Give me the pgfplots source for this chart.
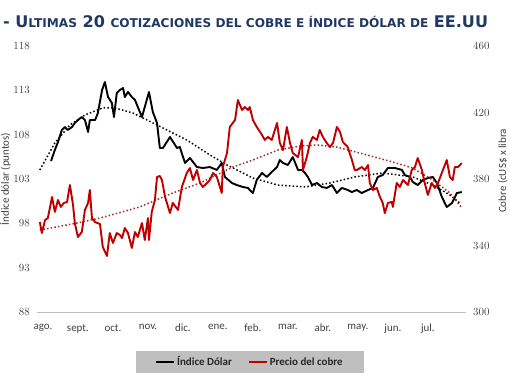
\documentclass[border=0pt]{standalone}
\usepackage{fontspec}
\setmainfont{Carlito}
\newfontfamily\titlefont{DejaVu Sans}
\usepackage{pgfplots}
\pgfplotsset{compat=1.18}
\definecolor{cred}{HTML}{C00000}
\definecolor{ctrend}{HTML}{A52A2A}
\definecolor{ttl}{HTML}{1F3864}
\definecolor{tick}{HTML}{404040}
\definecolor{legbg}{HTML}{BFBFBF}
\newcommand\smc[1]{{\fontsize{12.15}{12}\selectfont #1}}
\begin{document}
\begin{tikzpicture}
\useasboundingbox (0,0) rectangle (510bp,382bp);
\node[anchor=base west, inner sep=0pt, text=ttl, font=\titlefont\bfseries\fontsize{16.1}{18}\selectfont] at (3bp,354bp)
  {- U\smc{LTIMAS} 20 \smc{COTIZACIONES DEL COBRE E ÍNDICE DÓLAR DE} EE.UU};
\begin{axis}[
  at={(37bp,70bp)}, anchor=south west, scale only axis,
  width=429bp, height=266bp,
  xmin=-0.17, xmax=12.09, ymin=88, ymax=118,
  axis x line*=bottom, axis y line*=left,
  x axis line style={draw=black!25, line width=0.8bp},
  y axis line style={draw=none},
  major tick length=0pt,
  ytick={88,93,...,118},
  xtick={0,...,11},
  xticklabels={ago.,sept.,oct.,nov.,dic.,ene.,feb.,mar.,abr.,may.,jun.,jul.},
  tick label style={font=\fontsize{11}{13}\selectfont, text=tick},
  xticklabel style={anchor=north, inner sep=0pt, yshift=-12bp},
  yticklabel style={anchor=east, inner sep=0pt, xshift=-7bp},
  ylabel={Índice dólar (puntos)},
  ylabel style={at={(axis description cs:-0.074,0.5)}, anchor=center, rotate=0, font=\fontsize{11}{13}\selectfont, text=tick},
  legend style={at={(axis description cs:0.4965,-0.188)}, anchor=center, fill=legbg, draw=none,
    font=\bfseries\fontsize{11}{13}\selectfont, text=black!85, inner xsep=19bp, inner ysep=4bp,
    /tikz/every even column/.append style={column sep=14bp}},
  legend columns=2,
  legend image code/.code={\draw[#1] (0bp,0bp) -- (18bp,0bp);},
  clip=false,
]
\addplot[black, line width=1.5bp, dash pattern=on 1.5bp off 2.2bp, forget plot] coordinates {
(-0.09,104.02)(0.34,107.06)(0.77,109.09)(1.20,110.22)(1.71,111.01)(2.06,111.01)(2.57,110.44)(3.26,109.09)(4.11,107.40)(4.77,105.71)(5.26,104.58)(6.00,103.11)(6.71,102.32)(7.49,102.10)(8.20,102.55)(8.91,103.23)(9.71,103.68)(10.57,103.23)(11.14,102.32)(11.63,101.20)(11.91,100.29)
};
\addplot[black, line width=1.9bp, line join=round] coordinates {
(0.23,105.03)(0.34,106.27)(0.43,107.17)(0.54,108.53)(0.63,108.86)(0.71,108.53)(0.83,108.86)(0.91,109.32)(1.00,109.65)(1.11,109.99)(1.20,109.65)(1.29,108.30)(1.34,109.65)(1.49,109.65)(1.57,110.44)(1.69,113.04)(1.77,113.94)(1.86,112.25)(1.97,111.57)(2.03,109.99)(2.11,112.70)(2.20,113.04)(2.29,113.26)(2.34,112.25)(2.43,112.81)(2.54,112.25)(2.63,111.91)(2.71,111.12)(2.83,109.99)(2.91,111.12)(3.03,112.81)(3.14,110.56)(3.26,109.32)(3.34,106.50)(3.43,106.50)(3.63,107.74)(3.83,106.50)(3.91,106.61)(4.06,104.81)(4.20,105.37)(4.40,104.35)(4.57,104.24)(4.77,104.35)(4.97,104.02)(5.11,104.81)(5.20,103.23)(5.40,102.55)(5.54,102.32)(5.71,102.10)(5.86,101.99)(5.91,101.76)(6.00,101.42)(6.11,102.89)(6.26,103.68)(6.40,103.23)(6.54,103.79)(6.69,104.35)(6.77,105.14)(6.86,104.81)(7.00,104.58)(7.14,105.48)(7.29,104.02)(7.40,104.02)(7.49,103.68)(7.57,103.23)(7.69,102.32)(7.83,102.55)(7.97,102.10)(8.11,101.99)(8.26,102.32)(8.40,101.42)(8.54,101.99)(8.71,101.76)(8.83,101.53)(8.97,101.76)(9.11,101.42)(9.29,101.76)(9.43,101.99)(9.57,103.23)(9.71,103.45)(9.86,104.24)(10.06,104.24)(10.26,104.02)(10.34,103.45)(10.49,103.23)(10.57,102.66)(10.71,102.32)(10.86,102.89)(11.00,103.11)(11.14,103.23)(11.26,102.55)(11.40,100.97)(11.54,99.84)(11.69,100.29)(11.83,101.42)(11.97,101.53)
};
\addlegendentry{Índice Dólar}
\addlegendimage{cred, line width=1.9bp}
\addlegendentry{Precio del cobre}
\end{axis}
\begin{axis}[
  at={(37bp,70bp)}, anchor=south west, scale only axis,
  width=429bp, height=266bp,
  xmin=-0.17, xmax=12.09, ymin=300, ymax=460,
  axis x line=none, axis y line*=right,
  y axis line style={draw=none},
  major tick length=0pt,
  ytick={300,340,...,460},
  tick label style={font=\fontsize{11}{13}\selectfont, text=tick},
  yticklabel style={anchor=west, inner sep=0pt, xshift=7bp},
  ylabel={Cobre (cUS\$ x libra},
  ylabel style={at={(axis description cs:1.086,0.53)}, anchor=center, rotate=0, font=\fontsize{11}{13}\selectfont, text=tick},
  clip=false,
]
\addplot[ctrend, line width=1.5bp, dash pattern=on 1.5bp off 2.2bp] coordinates {
(-0.09,349.3)(0.97,353.5)(1.63,356.5)(2.77,363.2)(3.71,371.6)(4.49,377.6)(5.43,387.2)(6.00,391.4)(6.71,397.4)(7.34,399.8)(7.83,400.5)(8.40,399.2)(9.06,395.6)(10.00,390.2)(10.57,386.6)(11.14,379.4)(11.63,371.6)(11.97,362.6)
};
\addplot[cred, line width=1.9bp, line join=round] coordinates {
(-0.09,354.1)(-0.03,347.5)(0.06,355.3)(0.14,356.5)(0.26,369.2)(0.34,360.2)(0.43,367.4)(0.51,363.2)(0.60,365.6)(0.69,366.2)(0.77,376.4)(0.86,364.4)(0.91,353.5)(1.00,345.1)(1.11,348.1)(1.20,361.4)(1.29,365.6)(1.34,373.4)(1.40,356.5)(1.49,354.1)(1.63,352.9)(1.71,339.1)(1.83,333.7)(1.91,347.5)(2.00,341.5)(2.11,347.5)(2.20,346.3)(2.26,344.5)(2.34,350.5)(2.43,347.5)(2.54,338.5)(2.63,348.1)(2.71,345.1)(2.83,353.5)(2.91,343.3)(3.00,356.5)(3.03,343.3)(3.11,360.2)(3.20,367.4)(3.26,381.2)(3.34,381.8)(3.40,379.4)(3.49,369.2)(3.63,359.5)(3.71,365.6)(3.86,361.4)(3.97,375.2)(4.11,383.6)(4.20,386.6)(4.29,379.4)(4.40,385.4)(4.49,377.6)(4.57,375.2)(4.69,377.6)(4.77,379.4)(4.86,383.6)(4.97,381.2)(5.11,371.6)(5.14,387.2)(5.26,395.6)(5.34,411.3)(5.49,415.5)(5.57,427.5)(5.69,421.5)(5.77,423.3)(5.86,421.5)(5.91,423.3)(6.00,415.5)(6.11,411.3)(6.26,406.5)(6.34,403.5)(6.43,405.3)(6.54,403.5)(6.69,413.7)(6.77,401.7)(6.86,397.4)(6.97,411.3)(7.06,401.7)(7.14,395.6)(7.29,393.2)(7.40,403.5)(7.43,385.4)(7.54,393.2)(7.63,401.7)(7.71,405.3)(7.83,403.5)(7.91,409.5)(8.00,405.3)(8.11,401.7)(8.20,399.2)(8.29,401.7)(8.40,411.3)(8.49,408.3)(8.57,402.3)(8.71,399.2)(8.83,391.4)(8.91,385.4)(8.97,385.4)(9.11,387.2)(9.20,385.4)(9.29,388.4)(9.34,377.6)(9.43,373.4)(9.54,374.6)(9.63,369.2)(9.71,365.6)(9.77,359.5)(9.86,365.6)(9.97,366.2)(10.00,363.2)(10.11,377.6)(10.20,375.2)(10.29,379.4)(10.43,376.4)(10.54,385.4)(10.63,387.2)(10.71,392.6)(10.83,385.4)(10.91,377.6)(11.00,370.4)(11.11,377.6)(11.20,374.6)(11.29,377.6)(11.43,385.4)(11.54,391.4)(11.63,381.2)(11.71,379.4)(11.77,387.2)(11.86,387.2)(11.97,389.6)
};
\end{axis}
\end{tikzpicture}
\end{document}
